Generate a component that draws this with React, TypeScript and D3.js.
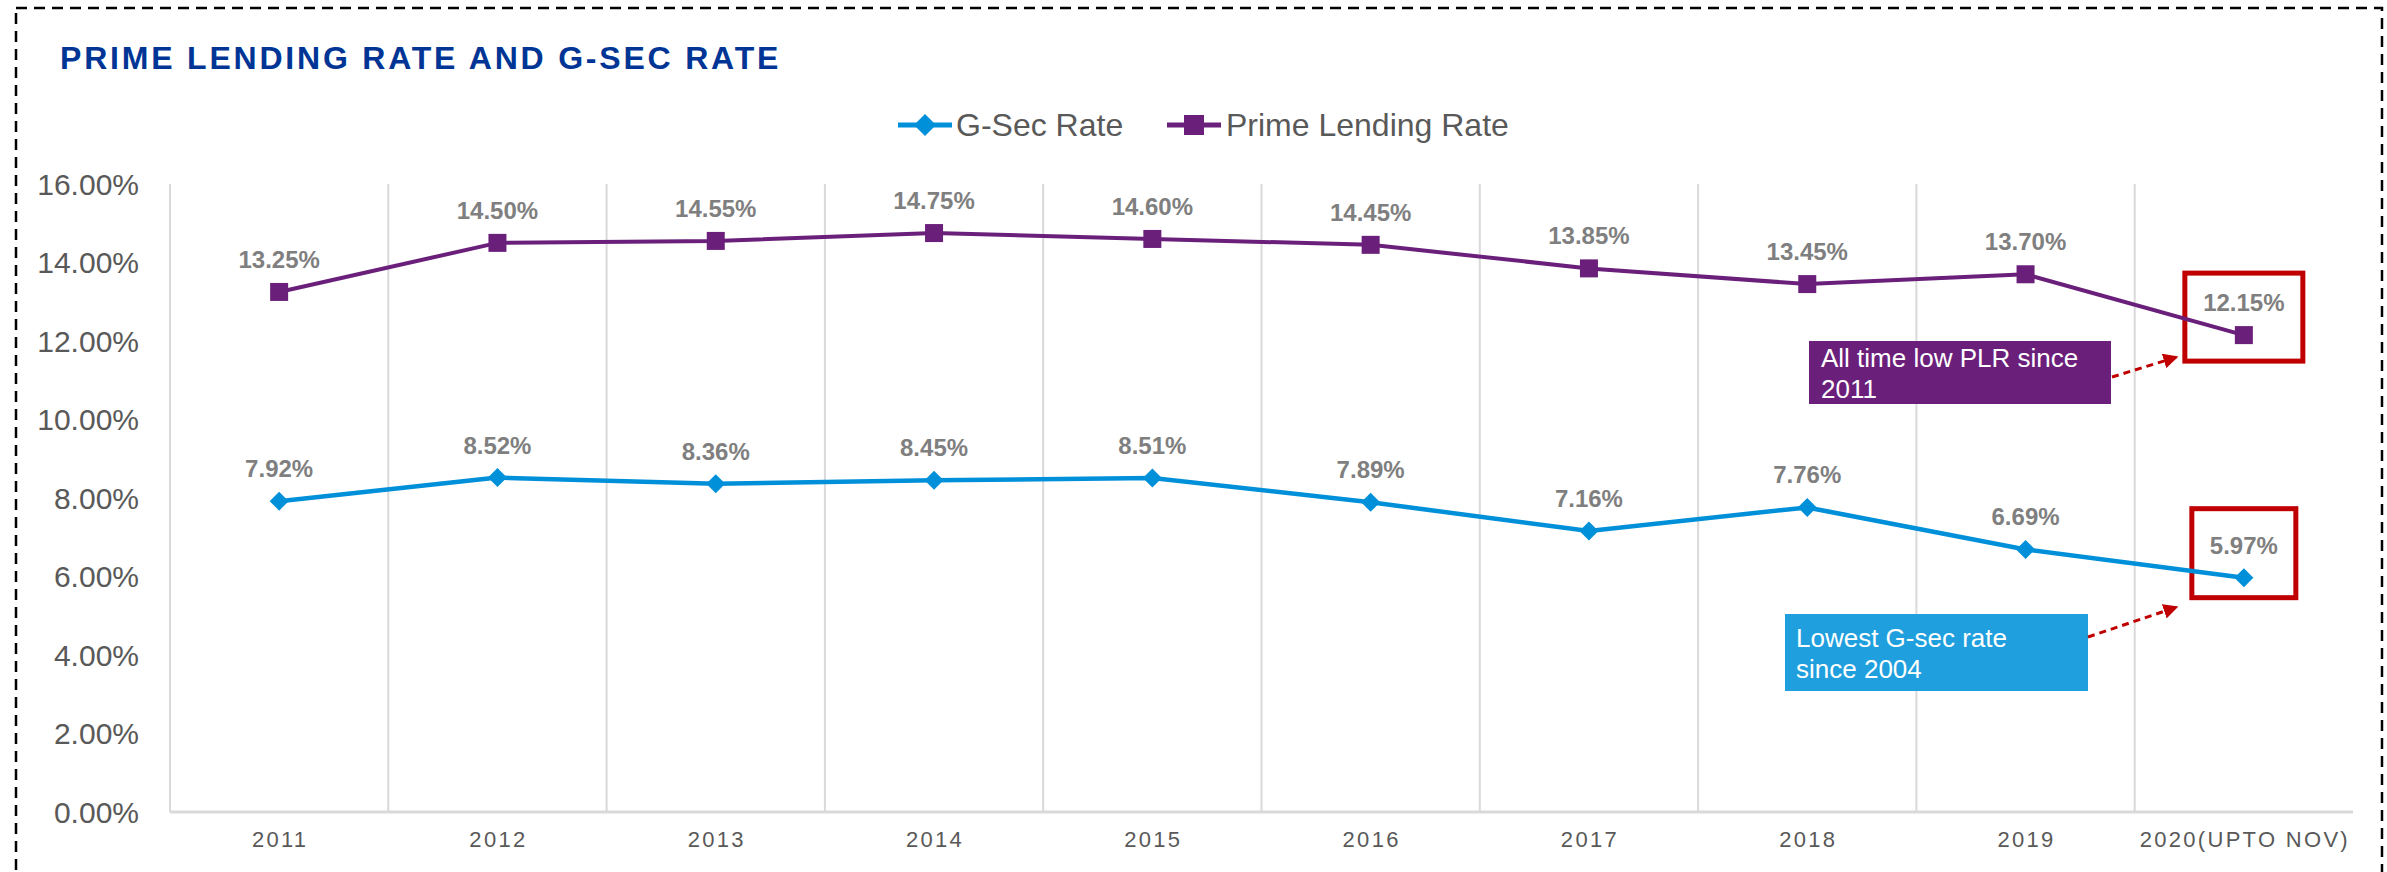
import React from 'react';
import * as d3 from 'd3';

const years = ['2011', '2012', '2013', '2014', '2015', '2016', '2017', '2018', '2019', '2020(UPTO NOV)'];
const gsecRate = [7.92, 8.52, 8.36, 8.45, 8.51, 7.89, 7.16, 7.76, 6.69, 5.97];
const primeLendingRate = [13.25, 14.5, 14.55, 14.75, 14.6, 14.45, 13.85, 13.45, 13.7, 12.15];
const yTicks = [0, 2, 4, 6, 8, 10, 12, 14, 16];

const W = 2387;
const H = 872;
const FONT = '"Liberation Sans", Arial, sans-serif';
const BLUE = '#0090d9';
const PURPLE = '#6a1f7a';
const RED = '#c00000';
const LABEL_GREY = '#7f7f7f';
const AXIS_GREY = '#595959';
const GRID = '#d9d9d9';

const App: React.FC = () => {
  const x = d3.scaleBand<string>().domain(years).range([170, 2353]).padding(0);
  const y = d3.scaleLinear().domain([0, 16]).range([812, 184]);
  const cx = (i: number) => (x(years[i]) as number) + x.bandwidth() / 2;

  const line = d3.line<number>()
    .x((_, i) => cx(i))
    .y(d => y(d));

  const diamond = (px: number, py: number, r: number) =>
    `M${px},${py - r}L${px + r},${py}L${px},${py + r}L${px - r},${py}Z`;

  const fmt = (v: number) => v.toFixed(2) + '%';
  const last = years.length - 1;
  const lx = cx(last);
  const plrY = y(primeLendingRate[last]);
  const gY = y(gsecRate[last]);

  return (
    <svg width={W} height={H} style={{ position: 'absolute', left: 0, top: 0, background: '#fff' }}>
      <defs>
        <marker id="arrowRed" viewBox="0 0 10 10" refX="9" refY="5" markerWidth="5" markerHeight="5" orient="auto">
          <path d="M0,0L10,5L0,10Z" fill={RED} />
        </marker>
      </defs>
      {/* dashed frame */}
      <rect x={16} y={8} width={2366} height={900} fill="none" stroke="#000" strokeWidth={2.5} strokeDasharray="11 7" />

      {/* title */}
      <text x={60} y={69} fontFamily={FONT} fontWeight="bold" fontSize={32} letterSpacing={2.8} fill="#003595">
        PRIME LENDING RATE AND G-SEC RATE
      </text>

      {/* legend */}
      <g fontFamily={FONT} fontSize={32} fill={AXIS_GREY}>
        <line x1={898} x2={952} y1={125} y2={125} stroke={BLUE} strokeWidth={5} />
        <path d={diamond(925, 125, 11)} fill={BLUE} />
        <text x={956} y={136}>G-Sec Rate</text>
        <line x1={1167} x2={1221} y1={125} y2={125} stroke={PURPLE} strokeWidth={5} />
        <rect x={1184} y={115} width={20} height={20} fill={PURPLE} />
        <text x={1226} y={136}>Prime Lending Rate</text>
      </g>

      {/* vertical gridlines */}
      {years.map((yr) => (
        <line key={yr} x1={x(yr) as number} x2={x(yr) as number} y1={184} y2={812} stroke={GRID} strokeWidth={2} />
      ))}
      <line x1={170} x2={2353} y1={812} y2={812} stroke={GRID} strokeWidth={3} />

      {/* y axis labels */}
      {yTicks.map(t => (
        <text key={t} x={139} y={y(t)} dy="0.36em" textAnchor="end" fontFamily={FONT} fontSize={30} fill={AXIS_GREY}>
          {t.toFixed(2) + '%'}
        </text>
      ))}

      {/* x axis labels */}
      {years.map((yr, i) => (
        <text key={yr} x={cx(i) + 1} y={847} textAnchor="middle" fontFamily={FONT} fontSize={22} letterSpacing={2.3} fill={AXIS_GREY}>
          {yr}
        </text>
      ))}

      {/* highlight boxes */}
      <rect x={lx - 59} y={plrY - 62} width={118} height={88} fill="none" stroke={RED} strokeWidth={5} />
      <rect x={lx - 52} y={gY - 69} width={104} height={89} fill="none" stroke={RED} strokeWidth={5} />

      {/* lines */}
      <path d={line(primeLendingRate) || ''} fill="none" stroke={PURPLE} strokeWidth={4} />
      <path d={line(gsecRate) || ''} fill="none" stroke={BLUE} strokeWidth={4.5} />

      {primeLendingRate.map((v, i) => (
        <rect key={'p' + i} x={cx(i) - 9} y={y(v) - 9} width={18} height={18} fill={PURPLE} />
      ))}
      {gsecRate.map((v, i) => (
        <path key={'g' + i} d={diamond(cx(i), y(v), 9.5)} fill={BLUE} />
      ))}

      {/* data labels */}
      <g fontFamily={FONT} fontWeight="bold" fontSize={24} fill={LABEL_GREY} textAnchor="middle">
        {primeLendingRate.map((v, i) => (
          <text key={'pl' + i} x={cx(i)} y={y(v) - 24}>{fmt(v)}</text>
        ))}
        {gsecRate.map((v, i) => (
          <text key={'gl' + i} x={cx(i)} y={y(v) - 24}>{fmt(v)}</text>
        ))}
      </g>

      {/* annotations */}
      <rect x={1809} y={341} width={302} height={63} fill={PURPLE} />
      <g fontFamily={FONT} fontSize={26} fill="#fff">
        <text x={1821} y={367}>All time low PLR since</text>
        <text x={1821} y={398}>2011</text>
      </g>
      <line x1={2112} y1={377} x2={2177} y2={357} stroke={RED} strokeWidth={3} strokeDasharray="7 5" markerEnd="url(#arrowRed)" />

      <rect x={1785} y={614} width={303} height={77} fill="#1f9fdd" />
      <g fontFamily={FONT} fontSize={26} fill="#fff">
        <text x={1796} y={647}>Lowest G-sec rate</text>
        <text x={1796} y={678}>since 2004</text>
      </g>
      <line x1={2088} y1={637} x2={2177} y2={607} stroke={RED} strokeWidth={3} strokeDasharray="7 5" markerEnd="url(#arrowRed)" />
    </svg>
  );
};

export default App;
